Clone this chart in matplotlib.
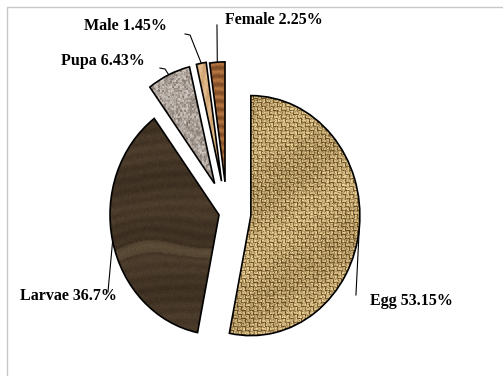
import numpy as np
import matplotlib.pyplot as plt
from matplotlib.lines import Line2D

stages = ['Egg', 'Larvae', 'Pupa', 'Male', 'Female']
shares = [53.15, 36.7, 6.43, 1.45, 2.25]
explode = [0.22, 0.075, 0.27, 0.27, 0.26]

# where each leader line bends / ends, and where its label sits
leader_pts = {
    'Egg': [(1.183, -0.683)],
    'Larvae': [(-1.092, -0.658)],
    'Pupa': [(-0.569, 1.200), (-0.615, 1.208)],
    'Male': [(-0.339, 1.483), (-0.385, 1.492)],
    'Female': [(-0.092, 1.567)],
}
label_pos = {
    'Egg': (1.312, -0.733, 'left'),
    'Larvae': (-1.459, -0.692, 'center'),
    'Pupa': (-0.752, 1.267, 'right'),
    'Male': (-0.550, 1.558, 'right'),
    'Female': (-0.018, 1.608, 'left'),
}

rng = np.random.default_rng(11)


def shade(t, dark, light):
    t = np.clip(t, 0, 1)[..., None]
    return np.array(dark) + (np.array(light) - np.array(dark)) * t


def burlap(h, w):
    i, j = np.mgrid[0:h, 0:w]
    block = ((i // 4) + (j // 4)) % 2
    strand = np.where(block == 0, i % 4, j % 4)
    t = np.where(strand == 3, 0.12, np.where(strand == 0, 0.5, 0.75))
    t = t + 0.14 * rng.normal(size=(h, w)) + 0.07 * np.sin(i / 17.0 + j / 23.0)
    return shade(t, (0.40, 0.29, 0.13), (0.94, 0.84, 0.60))


def dark_wood(h, w):
    i, j = np.mgrid[0:h, 0:w]
    g = i + 10 * np.sin(j / 50.0) + 6 * np.exp(-((i - h * 0.6) / 25.0) ** 2) * np.sin(j / 20.0)
    t = 0.33 + 0.05 * np.sin(g * 0.55) + 0.06 * np.sin(g * 0.11 + 1.0)
    t = t + 0.22 * (np.sin(g * 0.045 + 0.5) > 0.97) + 0.04 * rng.normal(size=(h, w))
    return shade(t, (0.16, 0.11, 0.07), (0.48, 0.41, 0.31))


def granite(h, w):
    n = rng.random((h // 2 + 1, w // 2 + 1))
    n = np.repeat(np.repeat(n, 2, axis=0), 2, axis=1)[:h, :w]
    t = 0.6 + 0.45 * (n - 0.5) + 0.08 * rng.normal(size=(h, w))
    return shade(t, (0.33, 0.28, 0.25), (0.90, 0.87, 0.84))


def light_wood(h, w):
    i, j = np.mgrid[0:h, 0:w]
    t = 0.6 + 0.15 * np.sin(j * 0.8 + i * 0.12) + 0.06 * rng.normal(size=(h, w))
    return shade(t, (0.70, 0.50, 0.30), (0.96, 0.82, 0.64))


def orange_wood(h, w):
    i, j = np.mgrid[0:h, 0:w]
    t = 0.5 + 0.25 * np.sin(i * 0.75 + 0.8 * np.sin(j * 0.2)) + 0.06 * rng.normal(size=(h, w))
    return shade(t, (0.40, 0.22, 0.10), (0.80, 0.53, 0.30))


textures = [burlap, dark_wood, granite, light_wood, orange_wood]

plt.rcParams['font.family'] = ['Liberation Serif', 'DejaVu Serif']

fig = plt.figure(figsize=(5.03, 3.76), dpi=100)
ax = fig.add_axes([0, 0, 1, 1])

wedges, _ = ax.pie(shares, explode=explode, startangle=90, counterclock=False,
                   radius=1, colors=['none'] * len(shares),
                   wedgeprops=dict(edgecolor='black', linewidth=1.2))

for wedge, tex in zip(wedges, textures):
    cx, cy = wedge.center
    r = wedge.r
    h, w = int(2 * r * 120) + 1, int(2 * r * 109) + 1
    im = ax.imshow(tex(h, w), extent=(cx - r, cx + r, cy - r, cy + r),
                   origin='upper', interpolation='bilinear', zorder=0)
    im.set_clip_path(wedge)
    wedge.set_zorder(2)

for name, wedge in zip(stages, wedges):
    th = np.deg2rad((wedge.theta1 + wedge.theta2) / 2)
    x0 = wedge.center[0] + wedge.r * np.cos(th)
    y0 = wedge.center[1] + wedge.r * np.sin(th)
    pts = leader_pts[name]
    ax.plot([x0] + [p[0] for p in pts], [y0] + [p[1] for p in pts],
            color='black', lw=0.8, zorder=3)
    lx, ly, ha = label_pos[name]
    value = shares[stages.index(name)]
    ax.text(lx, ly, f'{name} {value}%', ha=ha, va='center',
            fontsize=11.5, fontweight='bold', zorder=4)

ax.set_aspect('auto')
ax.set_xlim(-227 / 109, (503 - 227) / 109)
ax.set_ylim((213 - 376) / 120, 213 / 120)
ax.axis('off')

# chart-area border (only top and left edges fall inside the canvas)
fig.add_artist(Line2D([7 / 503, 7 / 503, 1], [0, 1 - 7 / 376, 1 - 7 / 376],
                      transform=fig.transFigure, color='#c8c8c8', lw=1.0))

fig.savefig('out.png', dpi=100)
